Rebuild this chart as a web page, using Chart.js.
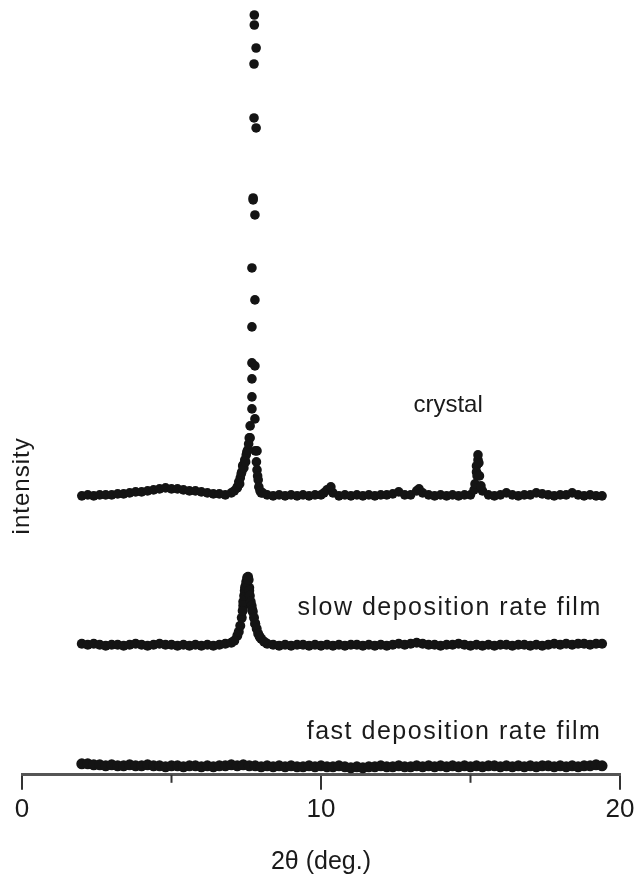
<!DOCTYPE html>
<html>
<head>
<meta charset="utf-8">
<script src="https://cdn.jsdelivr.net/npm/chart.js@4.4.1/dist/chart.umd.min.js"></script>
<style>
  html, body { margin: 0; padding: 0; background: #fff; }
  #wrap { width: 639px; height: 885px; }
</style>
</head>
<body>
<div id="wrap"><canvas id="xrdChart"></canvas></div>
<script>
// scan grid (2theta, deg) shared by the three patterns
var scanAngles = [2.0, 2.2, 2.4, 2.6, 2.8, 3.0, 3.2, 3.4, 3.6, 3.8,
    4.0, 4.2, 4.4, 4.6, 4.8, 5.0, 5.2, 5.4, 5.6, 5.8,
    6.0, 6.2, 6.4, 6.6, 6.8, 7.0, 7.2, 7.4, 7.6, 7.8,
    8.0, 8.2, 8.4, 8.6, 8.8, 9.0, 9.2, 9.4, 9.6, 9.8,
    10.0, 10.2, 10.4, 10.6, 10.8, 11.0, 11.2, 11.4, 11.6, 11.8,
    12.0, 12.2, 12.4, 12.6, 12.8, 13.0, 13.2, 13.4, 13.6, 13.8,
    14.0, 14.2, 14.4, 14.6, 14.8, 15.0, 15.2, 15.4, 15.6, 15.8,
    16.0, 16.2, 16.4, 16.6, 16.8, 17.0, 17.2, 17.4, 17.6, 17.8,
    18.0, 18.2, 18.4, 18.6, 18.8, 19.0, 19.2, 19.4];

// intensities on the grid (arb. units, above each pattern's own baseline)
var crystalCounts = [0, 1, 0, 1, 1, 1, 2, 2, 3, 4,
    4, 5, 6, 7, 8, 7, 7, 6, 5, 5,
    4, 3, 2, 2, 1, 3, 9, 31, 58, 45,
    3, 1, 0, 1, 0, 1, 0, 1, 0, 1,
    1, 6, 3, 0, 1, 0, 1, 0, 1, 0,
    1, 1, 2, 4, 1, 1, 5, 3, 1, 0,
    1, 0, 1, 0, 1, 1, 24, 5, 1, 0,
    1, 3, 1, 0, 1, 1, 3, 2, 1, 0,
    1, 1, 3, 1, 0, 1, 0, 0];

var slowCounts = [2, 1, 2, 1, 0, 1, 1, 0, 1, 2,
    1, 0, 1, 2, 1, 1, 0, 1, 0, 1,
    0, 1, 0, 1, 2, 3, 10, 40, 58, 22,
    7, 2, 1, 0, 1, 0, 1, 1, 0, 1,
    0, 1, 0, 1, 0, 1, 1, 0, 1, 0,
    1, 0, 1, 2, 1, 2, 3, 2, 1, 1,
    0, 1, 1, 2, 1, 0, 1, 0, 1, 0,
    1, 1, 0, 1, 1, 0, 1, 0, 1, 2,
    1, 2, 1, 2, 2, 1, 2, 2];

var fastCounts = [3, 3, 2, 2, 1, 2, 1, 1, 2, 1,
    1, 2, 1, 1, 0, 1, 1, 0, 1, 1,
    0, 1, 0, 1, 1, 2, 1, 2, 1, 1,
    0, 1, 0, 1, 0, 1, 0, 0, 1, 0,
    1, 0, 0, 1, 0, -1, 0, -1, 0, 0,
    1, 0, 0, 1, 0, 0, 1, 0, 1, 0,
    1, 0, 1, 0, 1, 0, 1, 0, 1, 1,
    0, 1, 0, 1, 0, 1, 0, 1, 1, 0,
    1, 0, 1, 0, 1, 1, 2, 1];

// extra points read around the peaks
var crystalPeakAngles = [7.77, 7.77, 7.83, 7.76, 7.76, 7.83, 7.73, 7.73, 7.79, 7.69,
    7.79, 7.69, 7.69, 7.79, 7.69, 7.69, 7.69, 7.79, 7.63, 7.63, 7.86,
    7.1, 7.2, 7.25, 7.28, 7.3, 7.33, 7.35, 7.38, 7.42, 7.45, 7.48, 7.5, 7.52, 7.55, 7.58,
    7.84, 7.86, 7.88, 7.9, 7.92, 7.96, 8.05,
    10.1, 10.33, 13.28, 15.12, 15.15, 15.2, 15.22, 15.25, 15.25, 15.28, 15.3, 15.35];
var crystalPeakCounts = [481, 471, 448, 432, 378, 368, 298, 296, 281, 228,
    196, 169, 133, 130, 117, 99, 87, 77, 70, 58, 45,
    5, 8, 14, 12, 18, 22, 24, 30, 28, 36, 34, 41, 44, 46, 52,
    34, 26, 20, 16, 9, 5, 3,
    3, 9, 7, 6, 12, 30, 20, 36, 41, 33, 20, 10];

var slowPeakAngles = [7.1, 7.25, 7.3, 7.35, 7.38, 7.4, 7.43, 7.45, 7.46, 7.48,
    7.5, 7.53, 7.55, 7.56, 7.58, 7.6, 7.62, 7.65, 7.68, 7.7,
    7.72, 7.76, 7.8, 7.85, 7.9, 7.95, 8.1];
var slowPeakCounts = [5, 14, 20, 28, 35, 44, 50, 55, 58, 60,
    64, 68, 66, 69, 66, 55, 50, 44, 40, 36,
    34, 28, 22, 17, 12, 9, 4];

var seriesNames = ['crystal', 'slow deposition rate film', 'fast deposition rate film'];
var xTicks = [0, 10, 20];
var xMinorTicks = [5, 15];

// vertical stacking of the three patterns
var crystalOffset = 279;
var slowOffset = 129;
var fastOffset = 8;

function buildPoints(angles, counts, offset) {
    var pts = [];
    for (var i = 0; i < angles.length; i++) {
        pts.push({ x: angles[i], y: counts[i] + offset });
    }
    return pts;
}

var crystalData = buildPoints(scanAngles, crystalCounts, crystalOffset)
    .concat(buildPoints(crystalPeakAngles, crystalPeakCounts, crystalOffset));
var slowData = buildPoints(scanAngles, slowCounts, slowOffset)
    .concat(buildPoints(slowPeakAngles, slowPeakCounts, slowOffset));
var fastData = buildPoints(scanAngles, fastCounts, fastOffset);

var FONT = '"Liberation Sans", Arial, Helvetica, sans-serif';
var INK = '#141414';

// series names next to each pattern, minor ticks, rotated "intensity" label
var textPlugin = {
    id: 'xrdText',
    afterDraw: function (chart) {
        var ctx = chart.ctx;
        var xs = chart.scales.x;
        var ys = chart.scales.y;
        ctx.save();
        ctx.fillStyle = '#1a1a1a';
        ctx.textAlign = 'center';
        ctx.textBaseline = 'middle';
        ctx.font = '24px ' + FONT;
        ctx.letterSpacing = '0px';
        ctx.fillText(seriesNames[0], xs.getPixelForValue(14.25), ys.getPixelForValue(370));
        ctx.font = '25px ' + FONT;
        ctx.letterSpacing = '1.5px';
        ctx.fillText(seriesNames[1], xs.getPixelForValue(14.3), ys.getPixelForValue(167));
        ctx.fillText(seriesNames[2], xs.getPixelForValue(14.45), ys.getPixelForValue(43));

        ctx.strokeStyle = '#333';
        ctx.lineWidth = 2;
        xMinorTicks.forEach(function (v) {
            var px = xs.getPixelForValue(v);
            ctx.beginPath();
            ctx.moveTo(px, xs.top);
            ctx.lineTo(px, xs.top + 8);
            ctx.stroke();
        });

        ctx.font = '24px ' + FONT;
        ctx.letterSpacing = '1px';
        ctx.translate(22, ys.getPixelForValue(289));
        ctx.rotate(-Math.PI / 2);
        ctx.fillText('intensity', 0, 0);
        ctx.restore();
    }
};

function makeSet(label, data, r) {
    return {
        label: label,
        data: data,
        showLine: false,
        pointRadius: r,
        pointHoverRadius: r,
        pointBackgroundColor: INK,
        pointBorderColor: INK,
        pointBorderWidth: 0
    };
}

var xrdChart = new Chart(document.getElementById('xrdChart'), {
    type: 'scatter',
    data: {
        datasets: [
            makeSet(seriesNames[0], crystalData, 4.8),
            makeSet(seriesNames[1], slowData, 5),
            makeSet(seriesNames[2], fastData, 5.5)
        ]
    },
    options: {
        responsive: true,
        maintainAspectRatio: false,
        animation: false,
        layout: { padding: { left: 22, right: 19, top: 10, bottom: 8 } },
        plugins: {
            legend: { display: false },
            tooltip: { enabled: false }
        },
        scales: {
            x: {
                type: 'linear',
                min: 0,
                max: 20,
                afterBuildTicks: function (axis) {
                    axis.ticks = xTicks.map(function (v) { return { value: v }; });
                },
                ticks: {
                    color: '#1a1a1a',
                    font: { family: FONT, size: 26 },
                    padding: 4,
                    maxRotation: 0
                },
                grid: {
                    display: true,
                    drawOnChartArea: false,
                    drawTicks: true,
                    tickLength: 15,
                    color: '#333',
                    lineWidth: 2
                },
                border: { display: true, color: '#555', width: 3 },
                title: {
                    display: true,
                    text: '2θ (deg.)',
                    color: '#1a1a1a',
                    font: { family: FONT, size: 25 },
                    padding: { top: 18, bottom: 0 }
                }
            },
            y: {
                display: false,
                min: 0,
                max: 765
            }
        }
    },
    plugins: [textPlugin]
});
</script>
</body>
</html>
